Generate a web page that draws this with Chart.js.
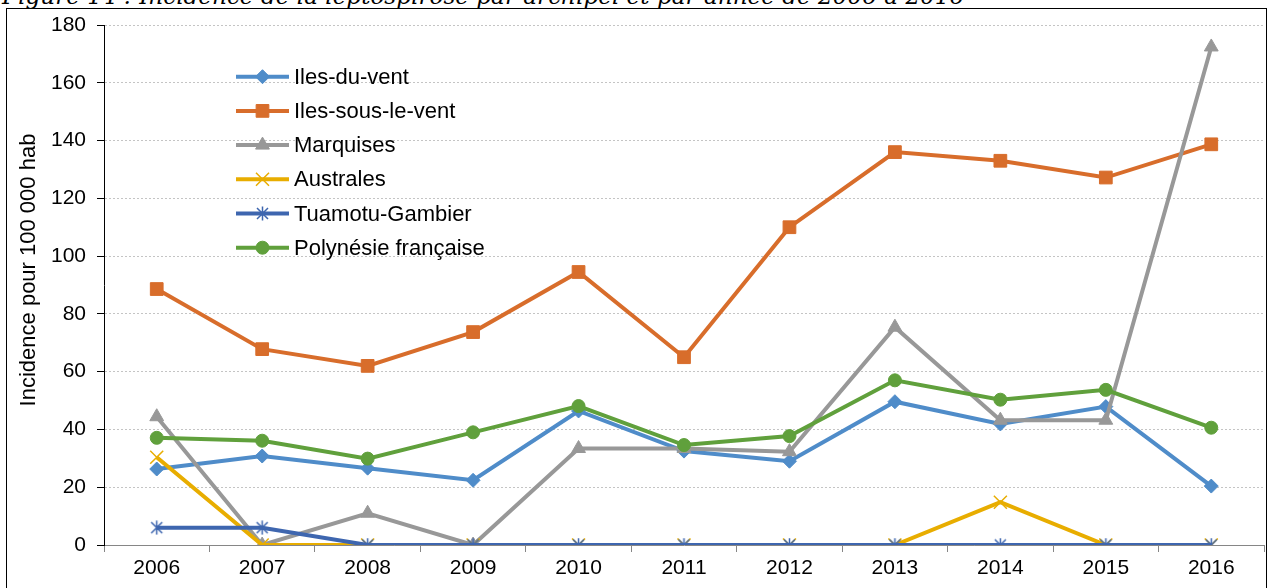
<!DOCTYPE html>
<html><head><meta charset="utf-8">
<script src="https://cdn.jsdelivr.net/npm/chart.js@4.4.0/dist/chart.umd.min.js"></script>
<style>
html,body{margin:0;padding:0;background:#fff;width:1269px;height:588px;overflow:hidden;position:relative}
#title{position:absolute;left:2px;top:-13px;font-family:"DejaVu Serif",serif;font-style:italic;font-size:21px;line-height:1;white-space:nowrap;color:#000}
#frame{position:absolute;left:6px;top:8px;width:1261px;height:600px;border:1px solid #000;box-sizing:border-box}
#wrap{position:absolute;left:0;top:0;width:1269px;height:588px}
</style></head><body>
<div id="title">Figure 14 : Incidence de la leptospirose par archipel et par année de 2006 à 2016</div>
<div id="frame"></div>
<div id="wrap"><canvas id="c" width="1269" height="588"></canvas></div>
<script>
// ---- data ----
const years = ['2006','2007','2008','2009','2010','2011','2012','2013','2014','2015','2016'];
const seriesNames = ['Iles-du-vent','Iles-sous-le-vent','Marquises','Australes','Tuamotu-Gambier','Polynésie française'];
const ilesDuVent     = [26.3, 30.8, 26.6, 22.4, 46.4, 32.5, 29.0, 49.6, 41.9, 47.9, 20.4];
const ilesSousLeVent = [88.6, 67.8, 62.0, 73.7, 94.5, 65.0, 110.0, 136.0, 133.0, 127.2, 138.7];
const marquises      = [44.4, 0, 11.0, 0, 33.4, 33.4, 32.3, 75.4, 43.2, 43.2, 172.4];
const australes      = [30.4, 0, 0, 0, 0, 0, 0, 0, 14.8, 0, 0];
const tuamotu        = [6.0, 6.0, 0, 0, 0, 0, 0, 0, 0, 0, 0];
const polynesie      = [37.1, 36.1, 29.9, 39.0, 48.1, 34.6, 37.7, 57.0, 50.3, 53.7, 40.6];
const yTicks = [0,20,40,60,80,100,120,140,160,180];
const yTitle = 'Incidence pour 100 000 hab';

// fit title width
(function(){
  const t=document.getElementById('title');
  const w=t.getBoundingClientRect().width;
  const target=963;
  const fs=21*target/w;
  t.style.fontSize=fs+'px';
  t.style.top=(5-0.846*fs)+'px';
})();

function asterisk(color){
  const c=document.createElement('canvas'); c.width=15; c.height=15;
  const g=c.getContext('2d'); g.strokeStyle=color; g.lineWidth=1.5;
  g.beginPath();
  g.moveTo(2,2); g.lineTo(13,13);
  g.moveTo(13,2); g.lineTo(2,13);
  g.moveTo(7.5,0.5); g.lineTo(7.5,14.5);
  g.stroke();
  return c;
}

const colors = ['#4F8CC9','#D86D2B','#989898','#E8AD00','#3E66AF','#60A03C'];
const values = [ilesDuVent, ilesSousLeVent, marquises, australes, tuamotu, polynesie];
const styles = ['rectRot','rect','triangle','crossRot', asterisk(colors[4]), 'circle'];
const radii  = [7, 9, 8, 9.2, 7.5, 6.5];
const bws    = [1, 1, 1, 1.5, 1, 1];
const FONT = '"Liberation Sans", Arial, sans-serif';

const datasets = values.map((v,i)=>({
  label: seriesNames[i],
  data: v,
  borderColor: colors[i],
  backgroundColor: colors[i],
  borderWidth: 4,
  tension: 0,
  pointStyle: styles[i],
  pointRadius: radii[i],
  pointHoverRadius: radii[i],
  pointBackgroundColor: colors[i],
  pointBorderColor: colors[i],
  pointBorderWidth: bws[i],
  order: 5 - i
}));

function drawMarker(ctx, style, r, x, y, color, bw){
  ctx.save();
  ctx.fillStyle=color; ctx.strokeStyle=color; ctx.lineWidth=bw;
  if (typeof style !== 'string'){
    ctx.drawImage(style, x-style.width/2, y-style.height/2);
    ctx.restore(); return;
  }
  ctx.beginPath();
  if (style==='circle'){ ctx.arc(x,y,r,0,Math.PI*2); ctx.fill(); ctx.stroke(); }
  else if (style==='rect'){ const s=Math.SQRT1_2*r; ctx.rect(x-s,y-s,2*s,2*s); ctx.fill(); ctx.stroke(); }
  else if (style==='rectRot'){ ctx.moveTo(x-r,y); ctx.lineTo(x,y-r); ctx.lineTo(x+r,y); ctx.lineTo(x,y+r); ctx.closePath(); ctx.fill(); ctx.stroke(); }
  else if (style==='triangle'){
    let a=0; ctx.moveTo(x+Math.sin(a)*r, y-Math.cos(a)*r);
    a+=2*Math.PI/3; ctx.lineTo(x+Math.sin(a)*r, y-Math.cos(a)*r);
    a+=2*Math.PI/3; ctx.lineTo(x+Math.sin(a)*r, y-Math.cos(a)*r);
    ctx.closePath(); ctx.fill(); ctx.stroke();
  }
  else if (style==='crossRot'){ const s=Math.SQRT1_2*r; ctx.moveTo(x-s,y-s); ctx.lineTo(x+s,y+s); ctx.moveTo(x+s,y-s); ctx.lineTo(x-s,y+s); ctx.stroke(); }
  ctx.restore();
}

const legendPlugin = {
  id:'inlegend',
  afterDraw(chart){
    const ctx=chart.ctx;
    chart.data.datasets.forEach((ds,i)=>{
      const y=76.7+i*34.2;
      ctx.save();
      ctx.strokeStyle=ds.borderColor; ctx.lineWidth=ds.borderWidth; ctx.lineCap='butt';
      ctx.beginPath(); ctx.moveTo(236,y); ctx.lineTo(289,y); ctx.stroke();
      ctx.restore();
      drawMarker(ctx, ds.pointStyle, ds.pointRadius, 262.5, y, ds.pointBackgroundColor, ds.pointBorderWidth);
      ctx.save();
      ctx.fillStyle='#000'; ctx.font='22px '+FONT;
      ctx.textBaseline='middle'; ctx.textAlign='left';
      ctx.fillText(ds.label, 294, y+1);
      ctx.restore();
    });
  }
};
const yTitlePlugin = {
  id:'ytitle',
  afterDraw(chart){
    const ctx=chart.ctx;
    ctx.save();
    ctx.translate(29,270); ctx.rotate(-Math.PI/2);
    ctx.fillStyle='#000'; ctx.font='22px '+FONT;
    ctx.textAlign='center'; ctx.textBaseline='middle';
    ctx.fillText(yTitle,0,0);
    ctx.restore();
  }
};

new Chart(document.getElementById('c'), {
  type:'line',
  data:{ labels: years, datasets },
  plugins:[legendPlugin, yTitlePlugin],
  options:{
    responsive:false, animation:false, devicePixelRatio:1,
    layout:{ autoPadding:false, padding:{ top:25, right:5, left:0, bottom:0 } },
    plugins:{ legend:{display:false}, tooltip:{enabled:false}, title:{display:false} },
    scales:{
      x:{
        type:'category', offset:true,
        grid:{ offset:true, drawOnChartArea:false, drawTicks:true, tickLength:7, color:'#868686', tickColor:'#868686', tickBorderDash:[] },
        border:{ color:'#868686', width:1 },
        ticks:{ color:'#000', font:{ family:FONT, size:21 }, padding:4, autoSkip:false, maxRotation:0 },
        afterFit(s){ s.height=43; s.paddingLeft=0; s.paddingRight=0; }
      },
      y:{
        min:0, max:180,
        afterBuildTicks(s){ s.ticks = yTicks.map(v=>({value:v})); },
        grid:{ color:'#C4C4C4', lineWidth:1, tickColor:'#000', tickLength:7, tickBorderDash:[] },
        border:{ color:'#000', width:1, dash:[2,2] },
        ticks:{ color:'#000', font:{ family:FONT, size:21 }, padding:11 },
        afterFit(s){ s.width=104; s.paddingTop=0; s.paddingBottom=0; }
      }
    }
  }
});
</script>
</body></html>
